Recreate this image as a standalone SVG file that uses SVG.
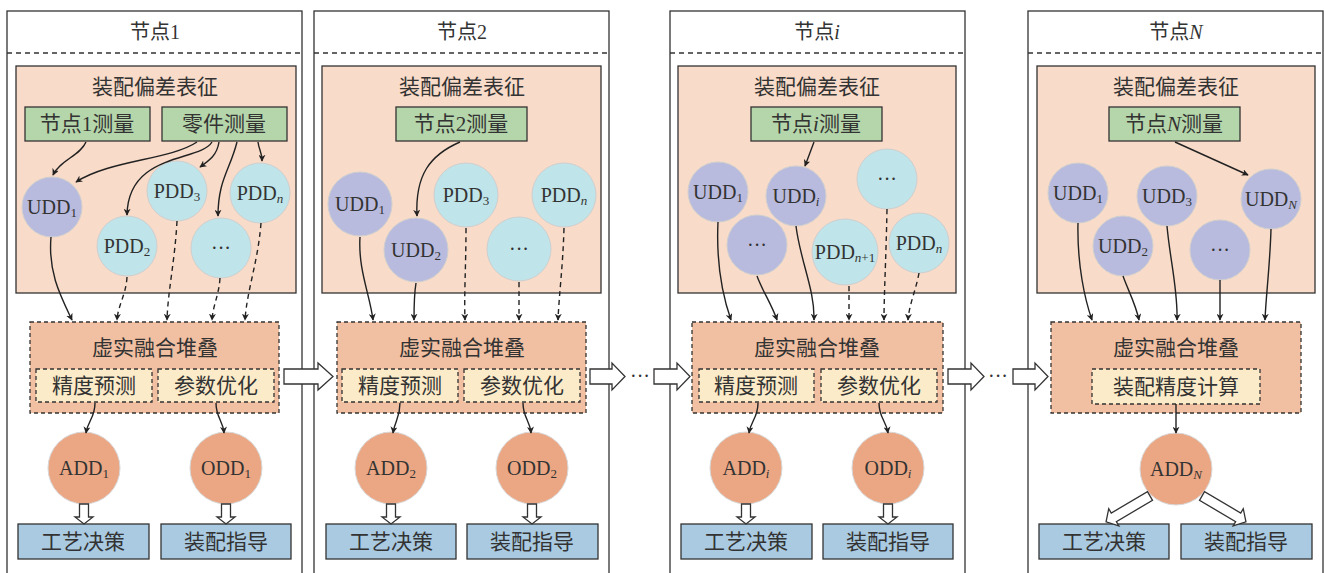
<svg xmlns="http://www.w3.org/2000/svg" width="1324" height="573" viewBox="0 0 1324 573">
<style>
.outer{fill:#fff;stroke:#333;stroke-width:1.3}
.hdr{stroke:#333;stroke-width:1.3;stroke-dasharray:5,4;fill:none}
.pink{fill:#f8dbc9;stroke:#333;stroke-width:1.3}
.green{fill:#b5d6aa;stroke:#333;stroke-width:1.3}
.pur{fill:#b9bbde;stroke:#cfcfcf;stroke-width:1}
.cyan{fill:#bfe4e9;stroke:#cfcfcf;stroke-width:1}
.fuse{fill:#f1bfa1;stroke:#333;stroke-width:1.3;stroke-dasharray:4,3}
.sub{fill:#fbebc8;stroke:#333;stroke-width:1.3;stroke-dasharray:4,3}
.out{fill:#eba784;stroke:#d8d8d8;stroke-width:1}
.blue{fill:#a9cae1;stroke:#333;stroke-width:1.3}
.hol{fill:#fff;stroke:#333;stroke-width:1.3;stroke-linejoin:miter}
.c{fill:none;stroke:#222;stroke-width:1.4;marker-end:url(#ah)}
.d{fill:none;stroke:#222;stroke-width:1.4;stroke-dasharray:5,4;marker-end:url(#ah)}
text{font-family:"Liberation Serif","Noto Sans CJK SC",serif;font-size:21px;fill:#333;text-anchor:middle;dominant-baseline:central}
.l{font-size:20px}
.t{font-size:20px}
.s{font-size:13px}
.i{font-style:italic}
</style>
<defs>
<marker id="ah" viewBox="0 0 10 10" refX="9" refY="5" markerWidth="7" markerHeight="7" markerUnits="userSpaceOnUse" orient="auto">
<path d="M0,0 L10,5 L0,10 L3,5 z" fill="#222"/>
</marker>
<polygon id="hd" points="-4.5,0 4.5,0 4.5,13 9,13 0,20 -9,13 -4.5,13" class="hol"/>
<polygon id="hdl" points="-5,0 5,0 5,42 10,42 0,51 -10,42 -5,42" class="hol"/>
</defs>

<!-- Column 1 -->
<g id="node1">
<rect class="outer" x="7" y="11" width="295" height="580"/>
<line class="hdr" x1="7" y1="53" x2="302" y2="53"/>
<text class="t" x="155" y="32">节点1</text>
<rect class="pink" x="16" y="66" width="280" height="227"/>
<text x="155" y="87">装配偏差表征</text>
<rect class="green" x="25" y="107" width="125" height="34"/>
<text x="87" y="124">节点1测量</text>
<rect class="green" x="162" y="107" width="125" height="34"/>
<text x="224" y="124">零件测量</text>
<circle class="pur" cx="52" cy="207" r="30"/>
<text class="l" x="52" y="207">UDD<tspan class="s" dy="5">1</tspan></text>
<circle class="cyan" cx="177" cy="191" r="30"/>
<text class="l" x="177" y="191">PDD<tspan class="s" dy="5">3</tspan></text>
<circle class="cyan" cx="260" cy="193" r="30"/>
<text class="l" x="260" y="193">PDD<tspan class="s i" dy="5">n</tspan></text>
<circle class="cyan" cx="127" cy="246" r="30"/>
<text class="l" x="127" y="246">PDD<tspan class="s" dy="5">2</tspan></text>
<circle class="cyan" cx="221" cy="248" r="30"/>
<text class="l" x="221" y="248">···</text>
<rect class="fuse" x="30" y="322" width="249" height="91"/>
<text x="155" y="348">虚实融合堆叠</text>
<rect class="sub" x="36" y="369" width="116" height="33"/>
<text x="94" y="386">精度预测</text>
<rect class="sub" x="158" y="369" width="116" height="33"/>
<text x="216" y="386">参数优化</text>
<circle class="out" cx="84" cy="468" r="36"/>
<text class="l" x="84" y="468">ADD<tspan class="s" dy="5">1</tspan></text>
<circle class="out" cx="226" cy="468" r="36"/>
<text class="l" x="226" y="468">ODD<tspan class="s" dy="5">1</tspan></text>
<rect class="blue" x="18" y="524" width="131" height="35"/>
<text x="83" y="542">工艺决策</text>
<rect class="blue" x="161" y="524" width="130" height="35"/>
<text x="226" y="542">装配指导</text>
</g>

<!-- Column 2 -->
<g id="node2">
<rect class="outer" x="314" y="11" width="295" height="580"/>
<line class="hdr" x1="314" y1="53" x2="609" y2="53"/>
<text class="t" x="462" y="32">节点2</text>
<rect class="pink" x="322" y="66" width="279" height="227"/>
<text x="462" y="87">装配偏差表征</text>
<rect class="green" x="396" y="107" width="131" height="34"/>
<text x="461" y="124">节点2测量</text>
<circle class="pur" cx="360" cy="204" r="32"/>
<text class="l" x="360" y="204">UDD<tspan class="s" dy="5">1</tspan></text>
<circle class="pur" cx="416" cy="250" r="32"/>
<text class="l" x="416" y="250">UDD<tspan class="s" dy="5">2</tspan></text>
<circle class="cyan" cx="466" cy="195" r="32"/>
<text class="l" x="466" y="195">PDD<tspan class="s" dy="5">3</tspan></text>
<circle class="cyan" cx="519" cy="249" r="32"/>
<text class="l" x="519" y="249">···</text>
<circle class="cyan" cx="564" cy="195" r="32"/>
<text class="l" x="564" y="195">PDD<tspan class="s i" dy="5">n</tspan></text>
<rect class="fuse" x="337" y="322" width="249" height="91"/>
<text x="462" y="348">虚实融合堆叠</text>
<rect class="sub" x="342" y="369" width="116" height="33"/>
<text x="400" y="386">精度预测</text>
<rect class="sub" x="464" y="369" width="116" height="33"/>
<text x="522" y="386">参数优化</text>
<circle class="out" cx="391" cy="468" r="36"/>
<text class="l" x="391" y="468">ADD<tspan class="s" dy="5">2</tspan></text>
<circle class="out" cx="532" cy="468" r="36"/>
<text class="l" x="532" y="468">ODD<tspan class="s" dy="5">2</tspan></text>
<rect class="blue" x="326" y="524" width="130" height="35"/>
<text x="391" y="542">工艺决策</text>
<rect class="blue" x="467" y="524" width="131" height="35"/>
<text x="532" y="542">装配指导</text>
</g>

<!-- Column 3 -->
<g id="nodei">
<rect class="outer" x="670" y="11" width="295" height="580"/>
<line class="hdr" x1="670" y1="53" x2="965" y2="53"/>
<text class="t" x="817" y="32">节点<tspan class="i">i</tspan></text>
<rect class="pink" x="678" y="66" width="278" height="227"/>
<text x="817" y="87">装配偏差表征</text>
<rect class="green" x="751" y="107" width="131" height="34"/>
<text x="816" y="124">节点<tspan class="i">i</tspan>测量</text>
<circle class="pur" cx="718" cy="192" r="30"/>
<text class="l" x="718" y="192">UDD<tspan class="s" dy="5">1</tspan></text>
<circle class="pur" cx="796" cy="196" r="30"/>
<text class="l" x="796" y="196">UDD<tspan class="s i" dy="5">i</tspan></text>
<circle class="cyan" cx="887" cy="179" r="30"/>
<text class="l" x="887" y="179">···</text>
<circle class="pur" cx="757" cy="245" r="30"/>
<text class="l" x="757" y="245">···</text>
<circle class="cyan" cx="845" cy="252" r="33"/>
<text class="l" x="845" y="252">PDD<tspan class="s" dy="5"><tspan class="i">n</tspan>+1</tspan></text>
<circle class="cyan" cx="919" cy="243" r="30"/>
<text class="l" x="919" y="243">PDD<tspan class="s i" dy="5">n</tspan></text>
<rect class="fuse" x="692" y="322" width="251" height="91"/>
<text x="817" y="348">虚实融合堆叠</text>
<rect class="sub" x="699" y="369" width="115" height="33"/>
<text x="756" y="386">精度预测</text>
<rect class="sub" x="821" y="369" width="116" height="33"/>
<text x="879" y="386">参数优化</text>
<circle class="out" cx="746" cy="468" r="36"/>
<text class="l" x="746" y="468">ADD<tspan class="s i" dy="5">i</tspan></text>
<circle class="out" cx="888" cy="468" r="36"/>
<text class="l" x="888" y="468">ODD<tspan class="s i" dy="5">i</tspan></text>
<rect class="blue" x="681" y="524" width="131" height="35"/>
<text x="746" y="542">工艺决策</text>
<rect class="blue" x="823" y="524" width="130" height="35"/>
<text x="888" y="542">装配指导</text>
</g>

<!-- Column 4 -->
<g id="nodeN">
<rect class="outer" x="1028" y="11" width="295" height="580"/>
<line class="hdr" x1="1028" y1="53" x2="1323" y2="53"/>
<text class="t" x="1176" y="32">节点<tspan class="i">N</tspan></text>
<rect class="pink" x="1037" y="66" width="278" height="227"/>
<text x="1176" y="87">装配偏差表征</text>
<rect class="green" x="1109" y="107" width="131" height="34"/>
<text x="1174" y="124">节点<tspan class="i">N</tspan>测量</text>
<circle class="pur" cx="1078" cy="193" r="30"/>
<text class="l" x="1078" y="193">UDD<tspan class="s" dy="5">1</tspan></text>
<circle class="pur" cx="1167" cy="196" r="30"/>
<text class="l" x="1167" y="196">UDD<tspan class="s" dy="5">3</tspan></text>
<circle class="pur" cx="1271" cy="199" r="30"/>
<text class="l" x="1271" y="199">UDD<tspan class="s i" dy="5">N</tspan></text>
<circle class="pur" cx="1123" cy="246" r="30"/>
<text class="l" x="1123" y="246">UDD<tspan class="s" dy="5">2</tspan></text>
<circle class="pur" cx="1220" cy="250" r="30"/>
<text class="l" x="1220" y="250">···</text>
<rect class="fuse" x="1051" y="322" width="250" height="91"/>
<text x="1176" y="348">虚实融合堆叠</text>
<rect class="sub" x="1092" y="369" width="168" height="35"/>
<text x="1176" y="387">装配精度计算</text>
<circle class="out" cx="1176" cy="469" r="36"/>
<text class="l" x="1176" y="469">ADD<tspan class="s i" dy="5">N</tspan></text>
<rect class="blue" x="1039" y="524" width="130" height="35"/>
<text x="1104" y="542">工艺决策</text>
<rect class="blue" x="1181" y="524" width="131" height="35"/>
<text x="1246" y="542">装配指导</text>
</g>

<!-- Connectors -->
<g id="connectors">
<!-- col1 -->
<path class="c" d="M86,142 C80,156 60,160 53,175"/>
<path class="c" d="M197,142 C170,160 110,160 76,182"/>
<path class="c" d="M212,142 C200,162 128,152 127,215"/>
<path class="c" d="M219,142 C217,155 210,160 200,167"/>
<path class="c" d="M237,142 C230,170 218,180 218,216"/>
<path class="c" d="M258,142 C259,150 262,152 262,161"/>
<path class="c" d="M51,237 C48,272 60,295 72,320"/>
<path class="d" d="M127,277 C126,295 118,305 117,320"/>
<path class="d" d="M177,221 C175,260 168,290 167,320"/>
<path class="d" d="M220,278 C219,295 213,305 212,320"/>
<path class="d" d="M261,223 C258,262 247,290 245,320"/>
<path class="c" d="M95,403 C95,418 88,420 86,433"/>
<path class="c" d="M216,403 C216,418 223,420 224,433"/>
<!-- col2 -->
<path class="c" d="M460,142 C430,155 415,175 417,216"/>
<path class="c" d="M360,237 C358,270 370,295 373,320"/>
<path class="c" d="M416,283 C414,295 414,305 414,320"/>
<path class="d" d="M466,228 C466,265 464,295 465,320"/>
<path class="d" d="M519,282 C519,295 519,305 519,320"/>
<path class="d" d="M564,228 C563,265 559,295 558,320"/>
<path class="c" d="M400,403 C400,418 395,420 393,433"/>
<path class="c" d="M523,403 C523,418 530,420 531,433"/>
<!-- col3 -->
<path class="c" d="M814,142 L805,166"/>
<path class="c" d="M718,222 C716,265 724,300 731,320"/>
<path class="c" d="M757,276 C762,290 772,305 777,320"/>
<path class="c" d="M796,226 C800,260 815,290 814,320"/>
<path class="d" d="M849,286 C849,300 849,308 849,320"/>
<path class="d" d="M887,209 C886,260 884,295 884,320"/>
<path class="d" d="M919,273 C916,290 909,305 908,320"/>
<path class="c" d="M758,403 C758,418 751,420 749,433"/>
<path class="c" d="M879,403 C879,418 886,420 888,433"/>
<!-- col4 -->
<path class="c" d="M1175,142 L1248,175"/>
<path class="c" d="M1078,223 C1077,265 1085,300 1092,320"/>
<path class="c" d="M1123,276 C1128,290 1136,305 1139,320"/>
<path class="c" d="M1167,226 C1170,260 1178,290 1177,320"/>
<path class="c" d="M1220,280 C1220,295 1220,305 1220,320"/>
<path class="c" d="M1271,229 C1270,265 1266,295 1265,320"/>
<path class="c" d="M1176,404 L1176,433"/>
<!-- hollow down arrows -->
<use href="#hd" x="84" y="504"/>
<use href="#hd" x="226" y="504"/>
<use href="#hd" x="391" y="504"/>
<use href="#hd" x="532" y="504"/>
<use href="#hd" x="746" y="504"/>
<use href="#hd" x="888" y="504"/>
<use href="#hdl" transform="translate(1150,496) rotate(59.5)"/>
<use href="#hdl" transform="translate(1202,496) rotate(-59.5)"/>
<!-- hollow right arrows -->
<polygon class="hol" points="284,369 318,369 318,363 333,376.5 318,390 318,384 284,384"/>
<polygon class="hol" points="590,369 612,369 612,363 625,376.5 612,390 612,384 590,384"/>
<text class="l" x="640" y="376">···</text>
<polygon class="hol" points="654,369 677,369 677,363 690,376.5 677,390 677,384 654,384"/>
<polygon class="hol" points="948,369 971,369 971,363 984,376.5 971,390 971,384 948,384"/>
<text class="l" x="998" y="376">···</text>
<polygon class="hol" points="1013,369 1035,369 1035,363 1048,376.5 1035,390 1035,384 1013,384"/>
</g>
</svg>
